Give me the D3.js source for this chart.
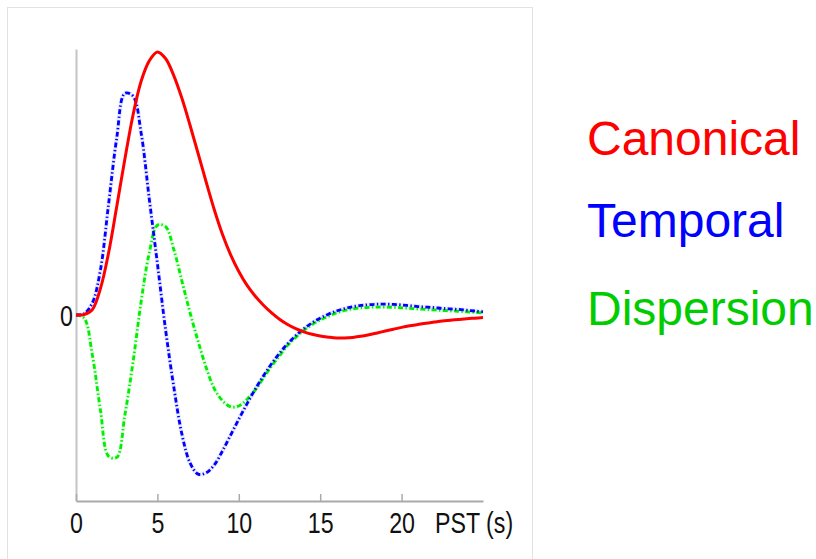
<!DOCTYPE html>
<html>
<head>
<meta charset="utf-8">
<script src="https://cdn.jsdelivr.net/npm/d3@7"></script>
<style>
  body { margin: 0; background: #fff; }
  .tick-label { font-family: "Liberation Sans", Arial, sans-serif; font-size: 29px; fill: #111; }
  .legend-label { font-family: "Liberation Sans", Arial, sans-serif; font-size: 48px; }
</style>
</head>
<body>
<div class="hrf-container"></div>
<script>
// peri-stimulus time (s), sampled every 0.5 s
const pst = [0,0.5,1,1.5,2,2.5,3,3.5,4,4.5,5,5.5,6,6.5,7,7.5,8,8.5,9,9.5,10,
  10.5,11,11.5,12,12.5,13,13.5,14,14.5,15,15.5,16,16.5,17,17.5,18,18.5,19,19.5,20,
  20.5,21,21.5,22,22.5,23,23.5,24,24.5,25];

// values (canonical peak = 1)
const canonical = [0,0.002,0.02,0.1,0.235,0.41,0.59,0.757,0.886,0.963,0.997,
  0.972,0.908,0.822,0.72,0.612,0.503,0.398,0.305,0.228,0.165,
  0.113,0.072,0.038,0.009,-0.016,-0.036,-0.052,-0.064,-0.073,-0.08,
  -0.084,-0.087,-0.087,-0.085,-0.081,-0.075,-0.068,-0.061,-0.054,-0.047,
  -0.041,-0.036,-0.031,-0.027,-0.023,-0.02,-0.017,-0.014,-0.012,-0.01];

const temporal = [0,0.005,0.045,0.17,0.42,0.67,0.84,0.83,0.69,0.44,0.195,
  -0.055,-0.27,-0.45,-0.56,-0.603,-0.598,-0.568,-0.515,-0.455,-0.395,
  -0.337,-0.282,-0.232,-0.186,-0.145,-0.109,-0.078,-0.052,-0.03,-0.012,
  0.003,0.015,0.024,0.031,0.036,0.039,0.041,0.041,0.04,0.038,
  0.035,0.032,0.03,0.028,0.025,0.023,0.021,0.018,0.015,0.012];

const dispersion = [0,-0.012,-0.15,-0.36,-0.535,-0.54,-0.38,-0.18,0.05,0.235,0.34,
  0.335,0.25,0.13,0.01,-0.1,-0.2,-0.28,-0.325,-0.348,-0.345,
  -0.32,-0.285,-0.24,-0.195,-0.155,-0.115,-0.085,-0.058,-0.036,-0.019,
  -0.005,0.008,0.017,0.023,0.027,0.029,0.03,0.03,0.029,0.027,
  0.025,0.023,0.021,0.019,0.017,0.016,0.014,0.012,0.01,0.008];

const xTicks = [0,5,10,15,20];
const yTicks = [0];
const legendNames = ['Canonical','Temporal','Dispersion'];

function setupCanvas(){
    const svg_width = 816;
    const svg_height = 559;

    const svg = d3.select('.hrf-container').append('svg')
        .attr('width', svg_width).attr('height', svg_height);

    // light frame around the plot panel
    svg.append('rect')
        .attr('x', 7.5).attr('y', 7.5)
        .attr('width', 525).attr('height', 560)
        .style('fill', 'none').style('stroke', '#e2e2e2').style('stroke-width', 1);

    const xScale = d3.scaleLinear().domain([0, 25]).range([76, 483]);
    const yScale = d3.scaleLinear().domain([-0.705, 1.008]).range([501, 49]);

    // axes
    const yAxis = d3.axisLeft(yScale).tickValues(yTicks).tickFormat(d3.format('d'))
        .tickSize(0).tickPadding(5);
    const yAxisDraw = svg.append('g').attr('class', 'y axis')
        .attr('transform', `translate(${xScale(0)},0)`).call(yAxis);
    yAxisDraw.select('.domain').style('stroke', '#c4c4c4').style('stroke-width', 2);
    yAxisDraw.selectAll('text').attr('class', 'tick-label')
        .attr('dy', '0.36em').attr('x', -4)
        .attr('transform', 'scale(0.8,1)');

    const xAxis = d3.axisBottom(xScale).tickValues(xTicks)
        .tickSizeInner(-7).tickSizeOuter(0).tickPadding(0);
    const xAxisDraw = svg.append('g').attr('class', 'x axis')
        .attr('transform', `translate(0,${yScale.range()[0]})`).call(xAxis);
    xAxisDraw.select('.domain').style('stroke', '#aaa').style('stroke-width', 2);
    xAxisDraw.selectAll('line').style('stroke', '#aaa').style('stroke-width', 1.5);
    xAxisDraw.selectAll('text').attr('class', 'tick-label')
        .attr('y', 32).attr('dy', 0)
        .attr('transform', 'scale(0.8,1)');
    xAxisDraw.append('text').attr('class', 'tick-label')
        .attr('x', 435 / 0.8).attr('y', 32)
        .attr('transform', 'scale(0.8,1)')
        .style('text-anchor', 'start')
        .text('PST (s)');

    // curves
    const series = [
        {name: 'canonical', values: canonical, color: '#ff0000', dash: null},
        {name: 'temporal', values: temporal, color: '#0000ff', dash: '5,2.4,1.4,2.4'},
        {name: 'dispersion', values: dispersion, color: '#00ee00', dash: '5,2.4,1.4,2.4'}
    ];
    const line = d3.line()
        .x((d, i) => xScale(pst[i]))
        .y(d => yScale(d))
        .curve(d3.curveCatmullRom.alpha(0.5));

    const plot = svg.append('g').attr('class', 'curves');
    // faint halo under dashed lines (looks like the anti-aliased original)
    plot.selectAll('.halo')
        .data(series.filter(s => s.dash).reverse())
        .enter().append('path')
        .attr('class', 'halo')
        .attr('d', s => line(s.values))
        .style('fill', 'none').style('stroke', s => s.color)
        .style('stroke-opacity', 0.08).style('stroke-width', 4.5);
    plot.selectAll('.hrf')
        .data(series.slice().reverse())
        .enter().append('path')
        .attr('class', 'hrf')
        .attr('d', s => line(s.values))
        .style('fill', 'none')
        .style('stroke', s => s.color)
        .style('stroke-width', s => s.dash ? 2.8 : 3)
        .style('stroke-dasharray', s => s.dash);

    // legend
    const legendColors = ['#ff0000', '#0000ff', '#00cc00'];
    const legendBaselines = [155, 237, 325];
    svg.append('g').attr('class', 'legend')
        .selectAll('text').data(legendNames).enter()
        .append('text').attr('class', 'legend-label')
        .attr('x', 587)
        .attr('y', (d, i) => legendBaselines[i])
        .style('fill', (d, i) => legendColors[i])
        .text(d => d);
}

setupCanvas();
</script>
</body>
</html>
